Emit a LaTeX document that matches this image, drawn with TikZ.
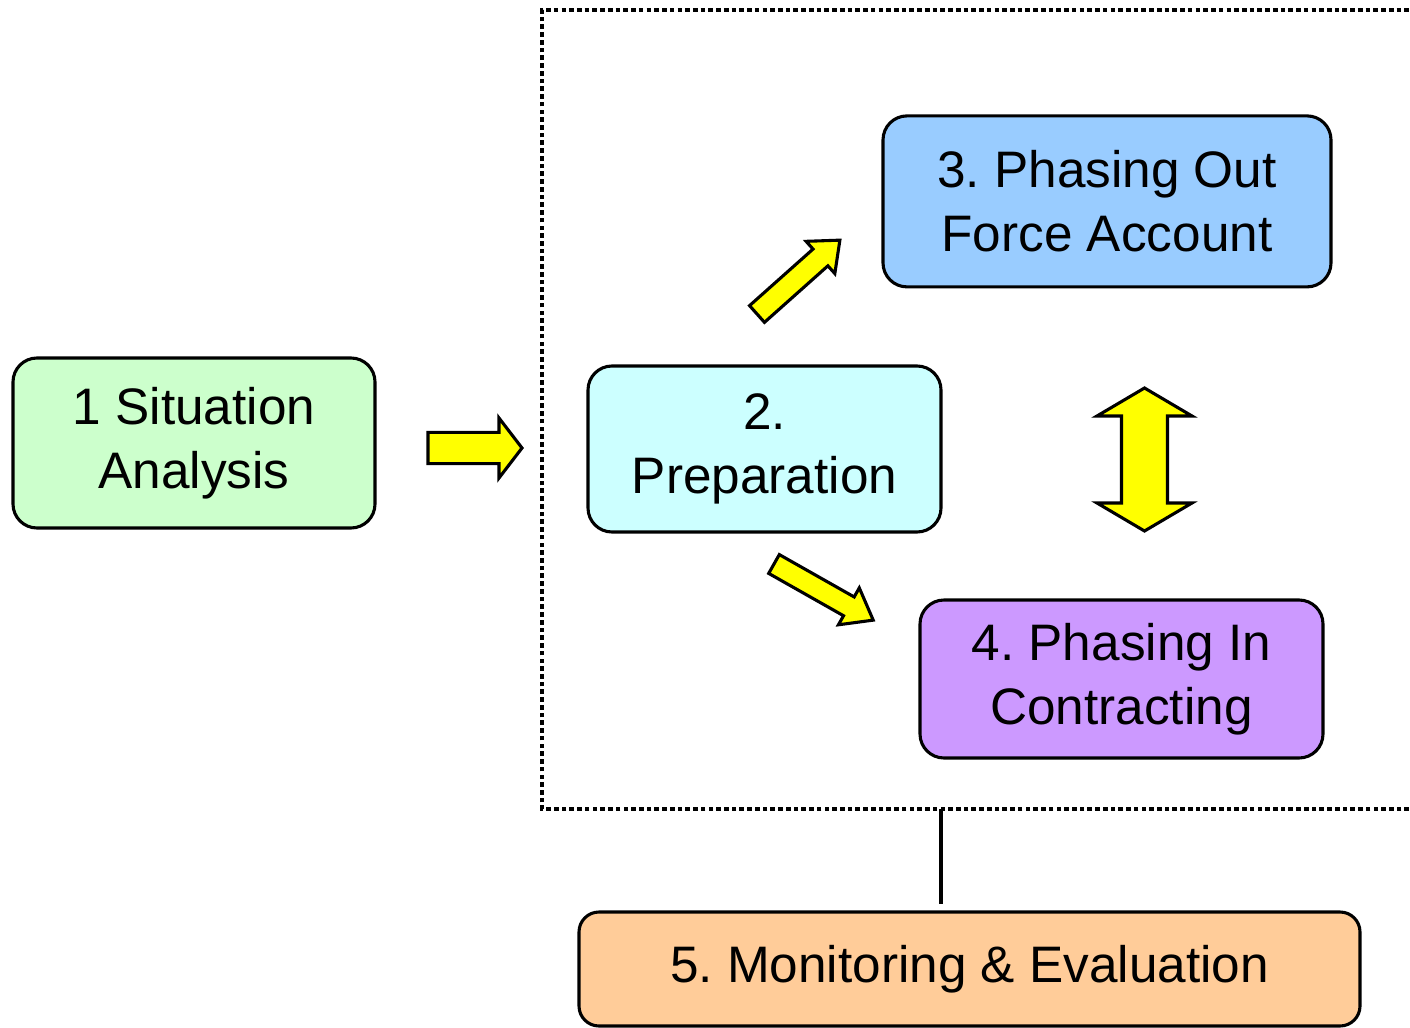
\documentclass[tikz,border=0pt]{standalone}
\usepackage{fontspec}
\setmainfont{Liberation Sans}
\frenchspacing
\usetikzlibrary{positioning, calc}
\definecolor{SitGreen}{HTML}{CCFFCC}
\definecolor{PrepCyan}{HTML}{CCFFFF}
\definecolor{OutBlue}{HTML}{99CCFF}
\definecolor{InPurple}{HTML}{CC99FF}
\definecolor{MonOrange}{HTML}{FFCC99}
\definecolor{ArrowYellow}{HTML}{FFFF00}
\tikzset{
    phasebox/.style={rectangle, rounded corners=0.6cm, draw=black, line width=2.2pt, align=center, inner sep=0pt,
        font=\fontsize{36.5}{45.5}\selectfont},
    blockarrow/.style={fill=ArrowYellow, draw=black, line width=2.2pt, line join=miter},
    frame/.style={draw=black, line width=3.5pt, dash pattern=on 3.3pt off 2.2pt},
    link/.style={draw=black, line width=2.3pt},
}

\begin{document}
\begin{tikzpicture}
    \useasboundingbox (0,0) rectangle (35.25,25.675);

    % Rahmen um die Phasen 2--4
    \coordinate (frameSW) at (13.55,5.45);
    \draw[frame] (36,5.45) -- (frameSW) -- (13.55,25.425) -- (36,25.425);

    % Phasen
    \node[phasebox, fill=SitGreen, minimum width=9.05cm, minimum height=4.25cm] (sit) at (4.85,14.6) {1 Situation\\Analysis};
    \node[phasebox, fill=PrepCyan, minimum width=8.825cm, minimum height=4.15cm] (prep) at (19.1125,14.45) {2.\\Preparation};
    \node[phasebox, fill=OutBlue, minimum width=11.2cm, minimum height=4.275cm] (out) at (27.675,20.64) {3. Phasing Out\\Force Account};
    \node[phasebox, fill=InPurple, minimum width=10.075cm, minimum height=3.95cm] (in) at (28.0375,8.7) {4. Phasing In\\Contracting};
    \node[phasebox, rounded corners=0.5cm, fill=MonOrange, minimum width=19.525cm, minimum height=2.85cm] (mon) at (24.2375,1.45) {5. Monitoring \& Evaluation};

    % Verbindung zum Monitoring
    \coordinate (tap) at (23.525,5.45);
    \draw[link] (tap) -- ($(tap |- mon.north)+(0,0.15)$);

    % Blockpfeile
    \draw[blockarrow, shift={(10.7,14.475)}]
        (0,-0.39) -- (1.775,-0.39) -- (1.775,-0.75) -- (2.35,0) -- (1.775,0.75) -- (1.775,0.39) -- (0,0.39) -- cycle;
    \draw[blockarrow, shift={(18.925,17.825)}, rotate=41.7]
        (0,-0.28) -- (2.125,-0.28) -- (2.125,-0.54) -- (2.775,0) -- (2.125,0.54) -- (2.125,0.28) -- (0,0.28) -- cycle;
    \draw[blockarrow, shift={(19.35,11.575)}, rotate=-29.5]
        (0,-0.27) -- (2.15,-0.27) -- (2.15,-0.53) -- (2.85,0) -- (2.15,0.53) -- (2.15,0.27) -- (0,0.27) -- cycle;
    \draw[blockarrow, shift={(28.6125,12.4)}]
        (0,0) -- (1.1875,0.7) -- (0.575,0.7) -- (0.575,2.875) -- (1.1875,2.875) -- (0,3.575)
        -- (-1.1875,2.875) -- (-0.575,2.875) -- (-0.575,0.7) -- (-1.1875,0.7) -- cycle;
\end{tikzpicture}
\end{document}
